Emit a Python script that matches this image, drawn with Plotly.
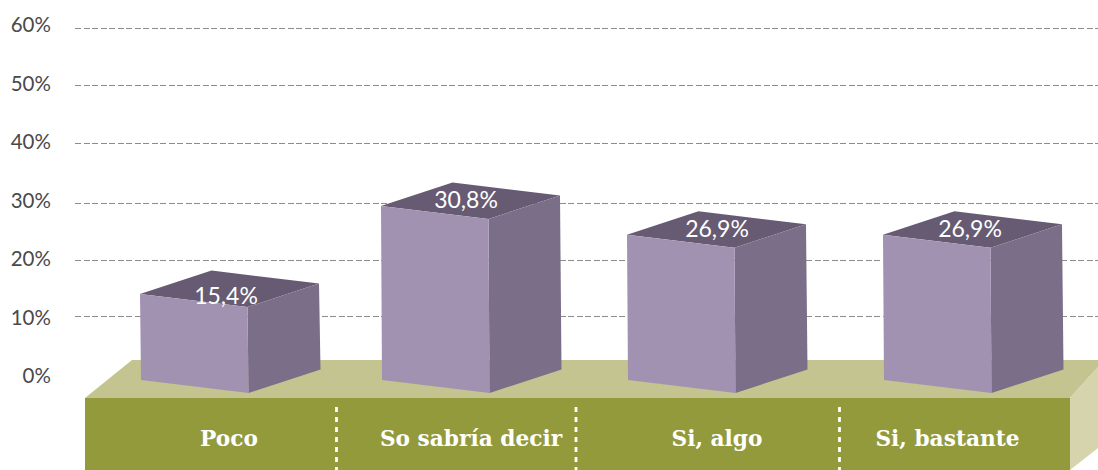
import plotly.graph_objects as go

# --- data ---
categories = ["Poco", "So sabría decir", "Si, algo", "Si, bastante"]
value_labels = ["15,4%", "30,8%", "26,9%", "26,9%"]
# front-left top edge of each box, read against the dashed grid (in % units)
bar_tops = [13.8, 29.1, 24.1, 24.1]
tick_values = [0, 10, 20, 30, 40, 50, 60]
tick_labels = ["0%", "10%", "20%", "30%", "40%", "50%", "60%"]
# dashed lines as they sit in the picture (their spacing is slightly uneven)
grid_values = [10, 19.7, 29.6, 39.9, 50.1, 60]

# --- layout / style ---
W, H = 1098, 470
PLOT_LEFT = 75
PX_PER_PCT = 5.76
ZERO_PX = 373.6
LABEL_PX_PER_PCT = 5.85
LABEL_ZERO_PX = 376


def yv(px):
    """pixel offset from the top of the page -> value on the main y axis"""
    return (ZERO_PX - px) / PX_PER_PCT


def dy(px):
    return px / PX_PER_PCT


BAR_LEFT = [140, 381, 627, 883]
BAR_W = 107.5
DEPTH_X = 71.5
DEPTH_Y = 23.5
SKEW = 13
BASE = yv(380)
VALUE_X = [226, 466, 717, 970]
VALUE_DY = [-4, 4, 4, 4]
CAT_X = [229, 471, 717, 947.5]
CAT_PX = 441
SEPARATORS = [336.5, 576, 839.5]

FRONT = "#a292b2"
SIDE = "#7a6e88"
TOP = "#665b73"
PLAT_FRONT = "#929a3c"
PLAT_TOP = "#c3c48f"
PLAT_SIDE = "#d5d4ad"


def poly(xs, ys, color):
    return go.Scatter(
        x=xs + xs[:1], y=ys + ys[:1], mode="lines", fill="toself", fillcolor=color,
        line=dict(color=color, width=0),
        hoverinfo="skip", showlegend=False,
    )


fig = go.Figure()

# platform
fig.add_trace(poly([85, 132, 1098, 1098, 1070], [yv(398), yv(360), yv(360), yv(367), yv(398)], PLAT_TOP))
fig.add_trace(poly([1070, 1098, 1098, 1070], [yv(398), yv(367), yv(448), yv(470)], PLAT_SIDE))
fig.add_trace(poly([85, 1070, 1070, 85], [yv(398), yv(398), yv(470), yv(470)], PLAT_FRONT))

# boxes
for left, top in zip(BAR_LEFT, bar_tops):
    r = left + BAR_W
    fl_top = top
    fr_top = top - dy(SKEW)
    bl = BASE
    br = BASE - dy(SKEW)
    fig.add_trace(poly([left, left + DEPTH_X, r + DEPTH_X, r],
                       [fl_top, fl_top + dy(DEPTH_Y), fr_top + dy(DEPTH_Y), fr_top], TOP))
    fig.add_trace(poly([r, r + DEPTH_X, r + DEPTH_X + 1.5, r + 1],
                       [fr_top, fr_top + dy(DEPTH_Y), br + dy(DEPTH_Y), br], SIDE))
    fig.add_trace(poly([left, r, r + 1, left + 1], [fl_top, fr_top, br, bl], FRONT))

# dotted separators on the platform
for x in SEPARATORS:
    fig.add_trace(go.Scatter(
        x=[x, x], y=[yv(407), yv(470)], mode="lines",
        line=dict(color="white", width=2.8, dash="5px,5px"),
        hoverinfo="skip", showlegend=False,
    ))

# value labels
fig.add_trace(go.Scatter(
    x=VALUE_X,
    y=[t + dy(d) for t, d in zip(bar_tops, VALUE_DY)],
    mode="text", text=value_labels, textposition="middle center",
    textfont=dict(family="Lato", size=23, color="white"),
    hoverinfo="skip", showlegend=False,
))

# category labels
fig.add_trace(go.Scatter(
    x=CAT_X, y=[yv(CAT_PX)] * len(CAT_X),
    mode="text", text=[f"<b>{c}</b>" for c in categories], textposition="middle center",
    textfont=dict(family="DejaVu Serif", size=21.7, color="white"),
    hoverinfo="skip", showlegend=False,
))

# carrier for the tick-label axis
fig.add_trace(go.Scatter(
    x=[PLOT_LEFT] * len(tick_values), y=tick_values, yaxis="y2", mode="markers",
    marker=dict(opacity=0), hoverinfo="skip", showlegend=False,
))

fig.update_layout(
    width=W, height=H, autosize=False,
    margin=dict(l=PLOT_LEFT, r=0, t=0, b=0, pad=0),
    paper_bgcolor="white", plot_bgcolor="white", showlegend=False,
    xaxis=dict(range=[PLOT_LEFT, W], visible=False, fixedrange=True),
    yaxis=dict(
        range=[yv(H), yv(0)], tickvals=grid_values, showticklabels=False,
        showgrid=True, gridcolor="#8c8c8c", gridwidth=1.2, griddash="6px,2.5px",
        zeroline=False, showline=False, ticks="", fixedrange=True, layer="below traces",
    ),
    yaxis2=dict(
        overlaying="y", side="left", anchor="x",
        range=[(LABEL_ZERO_PX - H) / LABEL_PX_PER_PCT, LABEL_ZERO_PX / LABEL_PX_PER_PCT],
        tickvals=tick_values, ticktext=tick_labels, showgrid=False, zeroline=False,
        showline=False, ticks="outside", ticklen=19, tickcolor="rgba(0,0,0,0)",
        tickfont=dict(family="Lato", size=20.5, color="#4a4a4a"), fixedrange=True,
    ),
)

fig.write_html("out.html", config=dict(displayModeBar=False),
               post_script="document.body.style.margin='0';document.body.style.overflow='hidden';")
